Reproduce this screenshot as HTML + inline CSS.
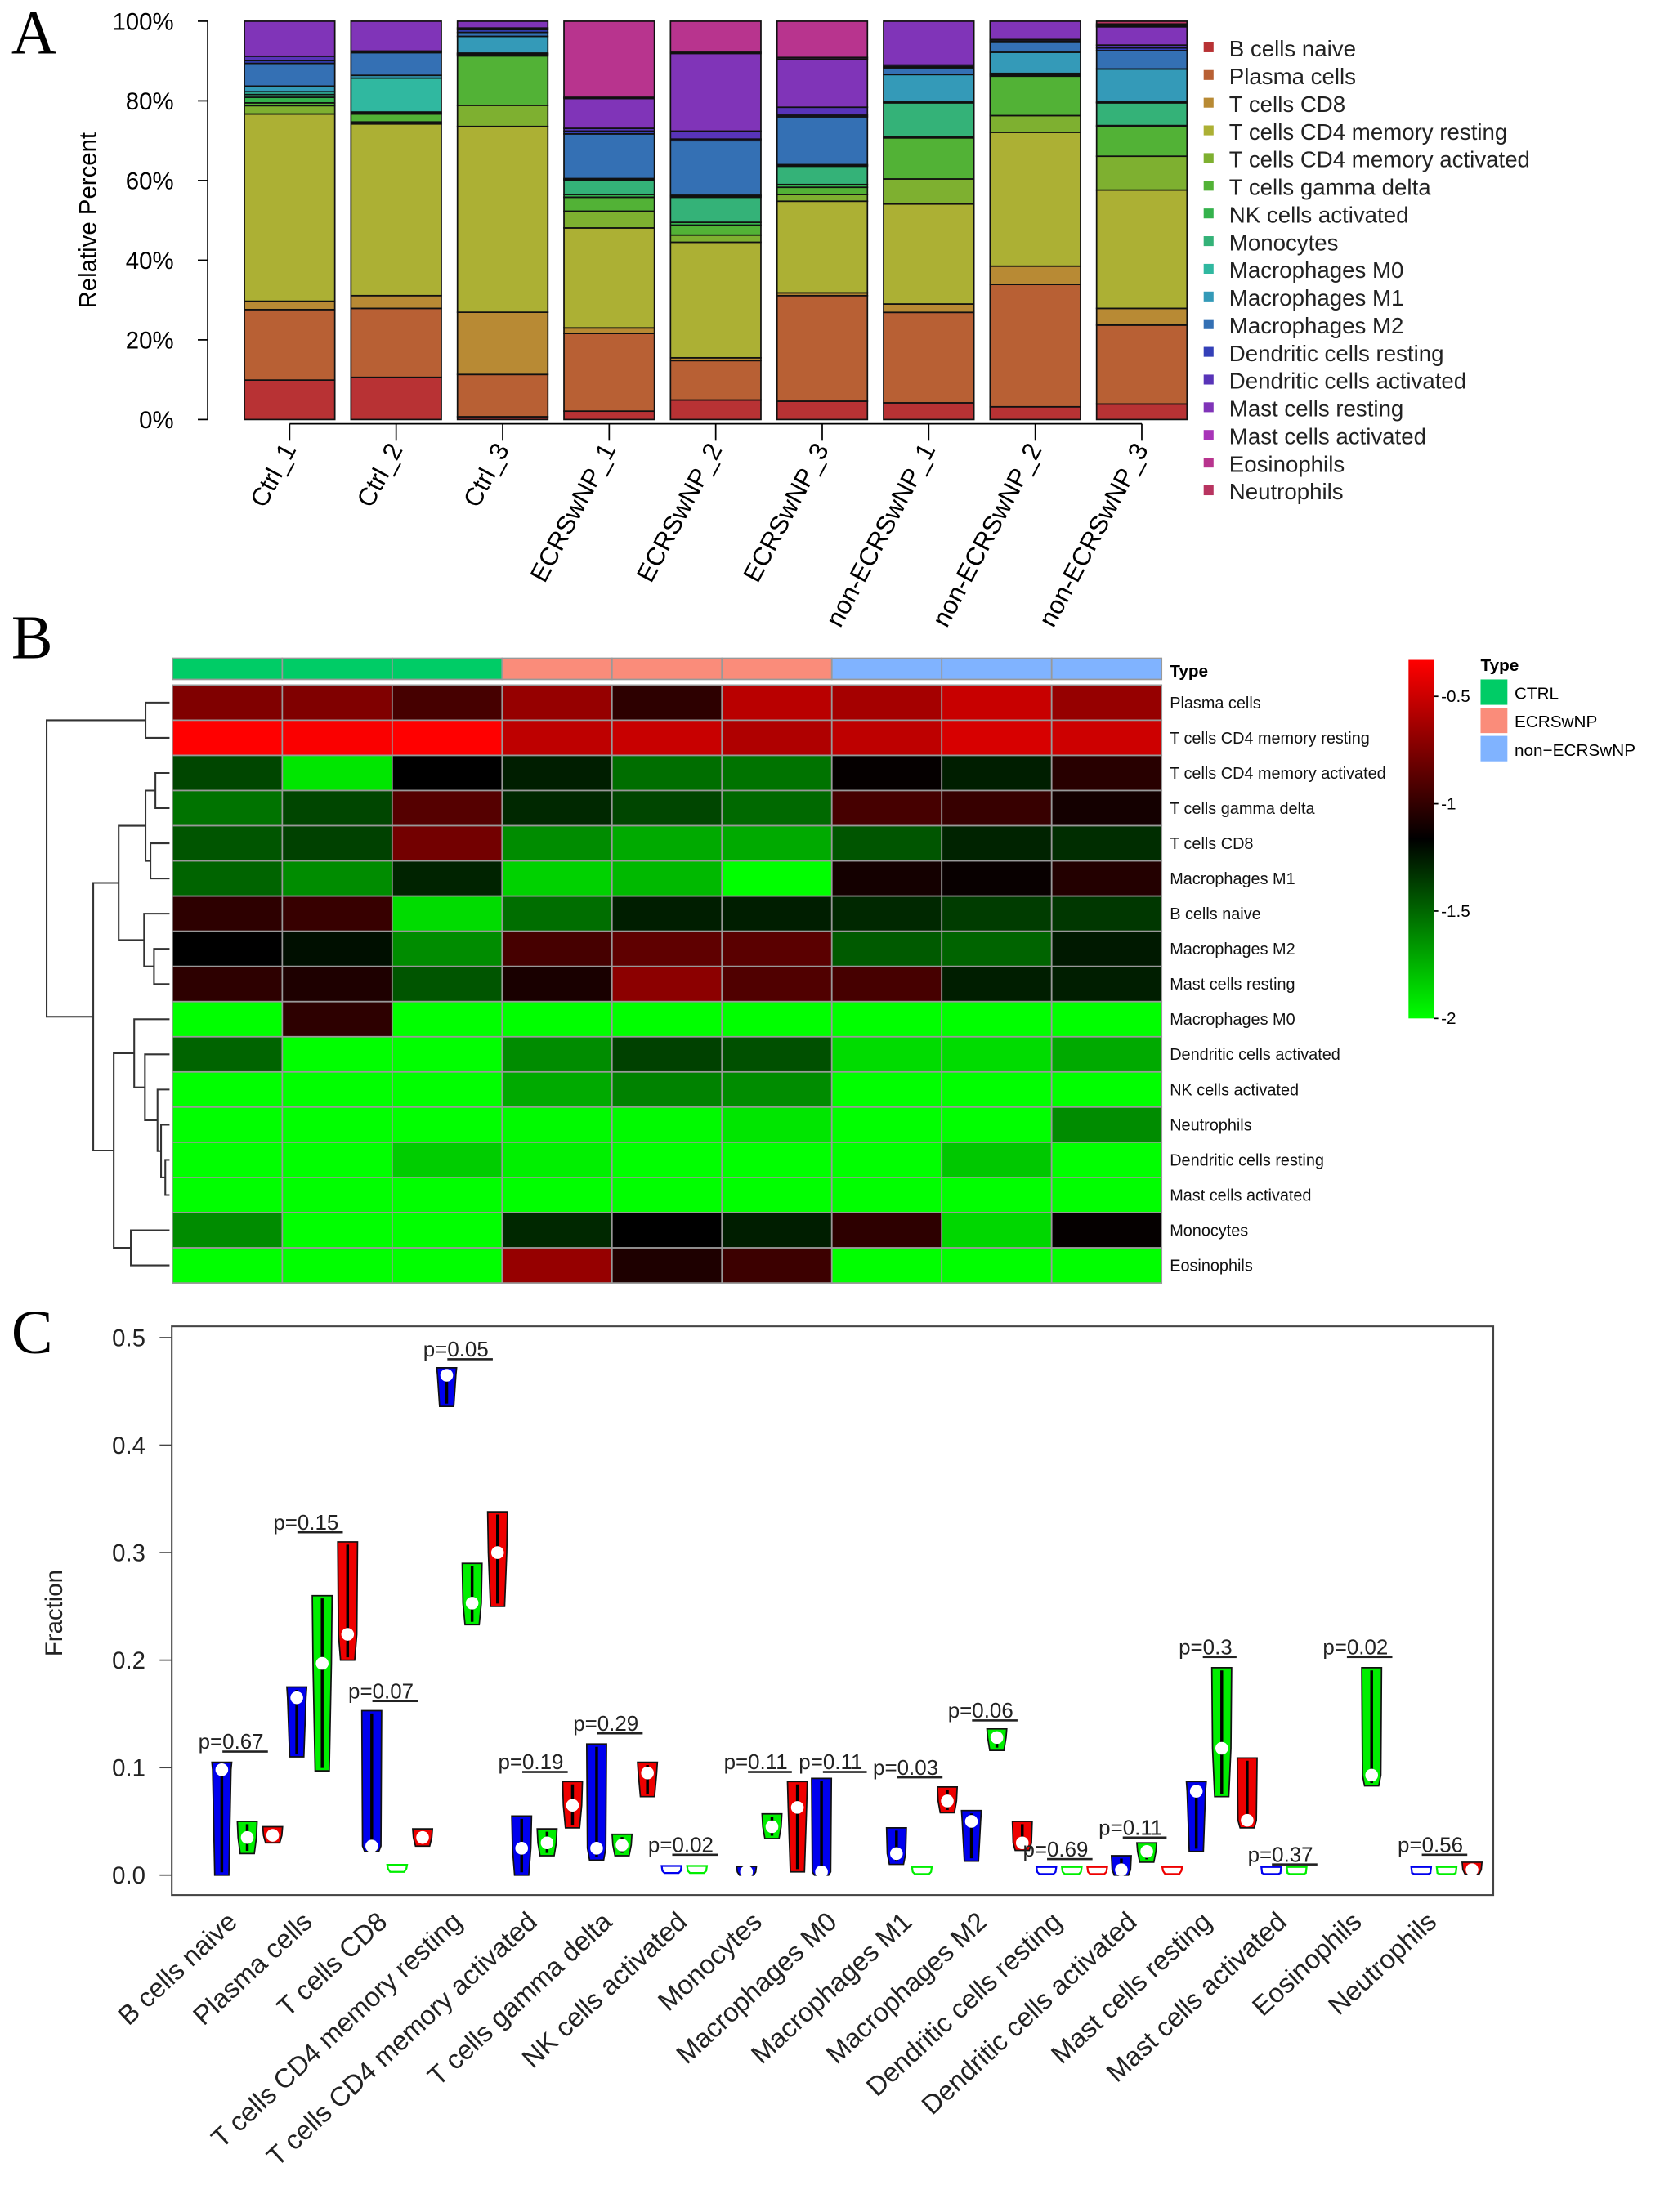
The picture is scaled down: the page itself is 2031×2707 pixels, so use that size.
<!DOCTYPE html>
<html><head><meta charset="utf-8">
<style>
html,body{margin:0;padding:0;background:#fff;}
svg{display:block;font-family:"Liberation Sans",sans-serif;}
</style></head>
<body>
<svg id="fig" width="2031" height="2707" viewBox="0 0 1175 1566" preserveAspectRatio="none" xmlns="http://www.w3.org/2000/svg">
<defs>
<linearGradient id="cbar" x1="0" y1="0" x2="0" y2="1">
<stop offset="0" stop-color="#ff0000"/><stop offset="0.5" stop-color="#000000"/><stop offset="1" stop-color="#00ff00"/>
</linearGradient>
</defs>
<text x="8" y="38" font-family="Liberation Serif,serif" font-size="44">A</text>
<text x="8" y="466" font-family="Liberation Serif,serif" font-size="44">B</text>
<text x="8" y="958" font-family="Liberation Serif,serif" font-size="44">C</text>
<g id="pa"></g>
<g id="pb"></g>
<g id="pc"></g>
</svg>
<script>
// ---------- shared data ----------
const cellTypes = ["B cells naive","Plasma cells","T cells CD8","T cells CD4 memory resting","T cells CD4 memory activated","T cells gamma delta","NK cells activated","Monocytes","Macrophages M0","Macrophages M1","Macrophages M2","Dendritic cells resting","Dendritic cells activated","Mast cells resting","Mast cells activated","Eosinophils","Neutrophils"];
const cellColors = ["#b83234","#b86034","#b88a34","#acb034","#7eb030","#52b236","#34b24c","#34b278","#30b8a0","#349ab8","#3470b4","#3440b8","#5834b8","#8034b8","#a834b8","#b8348e","#b83460"];
// Panel A
const samples = ["Ctrl_1","Ctrl_2","Ctrl_3","ECRSwNP_1","ECRSwNP_2","ECRSwNP_3","non-ECRSwNP_1","non-ECRSwNP_2","non-ECRSwNP_3"];
const fracCtrl1 = [9.9,17.7,2.1,47,2.1,0.7,1.4,0.7,0.7,1.4,5.7,0.7,1.1,8.8,0,0,0];
const fracCtrl2 = [10.6,17.3,3.2,43.1,0.5,2.0,0.2,0.3,8.5,0.7,5.7,0.2,0.2,7.5,0,0,0];
const fracCtrl3 = [0.7,10.6,15.6,46.6,5.3,12.4,0.3,0.2,0.2,4.2,1.0,0.7,0.4,1.7,0,0,0];
const fracE1 = [2.1,19.5,1.4,25.1,4.2,3.5,0.7,3.6,0.2,0.2,11.2,0.7,0.7,7.5,0.3,19.1,0];
const fracE2 = [4.9,9.9,0.7,29.0,1.8,2.5,0.7,6.3,0.3,0.2,13.7,0.4,2.0,19.5,0.3,7.8,0];
const fracE3 = [4.6,26.5,0.7,23.0,1.7,1.8,0.7,4.6,0.2,0.2,12.0,0.4,2.0,12.1,0.4,9.1,0];
const fracN1 = [4.2,22.7,2.1,25.1,6.3,10.3,0.3,8.5,0.2,6.9,1.7,0.3,0.4,11.0,0,0,0];
const fracN2 = [3.2,30.7,4.6,33.6,4.2,9.9,0.3,0.2,0.2,5.3,2.5,0.3,0.4,4.6,0,0,0];
const fracN3 = [3.9,19.8,4.2,29.7,8.5,7.4,0.3,5.7,0.2,8.3,4.6,0.7,0.7,4.6,0.3,0.4,0.7];
const yTicksA = [0,20,40,60,80,100];
// Panel B
const heatRows = ["Plasma cells","T cells CD4 memory resting","T cells CD4 memory activated","T cells gamma delta","T cells CD8","Macrophages M1","B cells naive","Macrophages M2","Mast cells resting","Macrophages M0","Dendritic cells activated","NK cells activated","Neutrophils","Dendritic cells resting","Mast cells activated","Monocytes","Eosinophils"];
const heatGroups = ["CTRL","CTRL","CTRL","ECRSwNP","ECRSwNP","ECRSwNP","non-ECRSwNP","non-ECRSwNP","non-ECRSwNP"];
const hPlasma = [-0.746,-0.746,-0.936,-0.674,-1.018,-0.560,-0.625,-0.511,-0.674];
const hCD4r = [-0.331,-0.347,-0.331,-0.544,-0.511,-0.593,-0.544,-0.462,-0.495];
const hCD4a = [-1.394,-1.917,-1.165,-1.263,-1.525,-1.541,-1.149,-1.263,-1.034];
const hTgd = [-1.541,-1.394,-0.887,-1.296,-1.394,-1.508,-0.936,-0.985,-1.100];
const hCD8 = [-1.443,-1.378,-0.789,-1.623,-1.721,-1.721,-1.443,-1.279,-1.312];
const hM1 = [-1.492,-1.623,-1.279,-1.852,-1.770,-2.0,-1.100,-1.139,-1.051];
const hBn = [-1.018,-0.985,-1.884,-1.525,-1.263,-1.263,-1.296,-1.361,-1.345];
const hM2 = [-1.165,-1.214,-1.623,-0.936,-0.854,-0.871,-1.459,-1.492,-1.247];
const hMastR = [-1.018,-1.067,-1.443,-1.083,-0.707,-0.903,-0.936,-1.263,-1.263];
const hM0 = [-2,-1.018,-2,-2,-2,-2,-2,-2,-2];
const hDCa = [-1.492,-2,-2,-1.623,-1.378,-1.426,-1.884,-1.884,-1.721];
const hNK = [-2,-2,-2,-1.721,-1.590,-1.623,-2,-2,-2];
const hNeut = [-2,-2,-2,-1.983,-1.983,-1.917,-2,-2,-1.623];
const hDCr = [-2,-2,-1.835,-1.950,-2,-2,-2,-1.819,-2];
const hMastA = [-2,-2,-2,-2,-2,-2,-2,-2,-2];
const hMono = [-1.623,-2,-2,-1.296,-1.165,-1.263,-1.018,-1.868,-1.149];
const hEos = [-2,-2,-2,-0.674,-1.067,-0.969,-2,-2,-2];
const cbarTicks = [-0.5,-1,-1.5,-2];
// Panel C
const blueMin = [0,0.11,0.022,0.436,0,0.014,0.002,0,0,0.01,0.013,0.001,0,0.022,0.001,null,0.001];
const blueMed = [0.098,0.165,0.027,0.465,0.025,0.025,0.004,0.003,0.003,0.02,0.05,0.003,0.005,0.078,0.002,null,0.002];
const blueMax = [0.105,0.175,0.153,0.472,0.055,0.122,0.007,0.008,0.09,0.044,0.06,0.006,0.018,0.087,0.004,null,0.004];
const greenMin = [0.02,0.097,0.003,0.233,0.018,0.018,0.002,0.034,null,0.001,0.116,0.001,0.012,0.073,0.001,0.083,0.001];
const greenMed = [0.035,0.197,0.006,0.253,0.03,0.028,0.004,0.045,null,0.003,0.128,0.003,0.022,0.118,0.002,0.093,0.002];
const greenMax = [0.05,0.26,0.01,0.29,0.043,0.038,0.007,0.057,null,0.007,0.136,0.006,0.03,0.193,0.004,0.193,0.004];
const redMin = [0.03,0.2,0.027,0.25,0.044,0.073,null,0.003,null,0.058,0.023,0.001,0.001,0.044,null,null,0.001];
const redMed = [0.037,0.224,0.035,0.3,0.065,0.095,null,0.063,null,0.069,0.03,0.003,0.004,0.051,null,null,0.005];
const redMax = [0.045,0.31,0.043,0.338,0.087,0.105,null,0.087,null,0.082,0.05,0.006,0.008,0.109,null,null,0.012];
const pValues = ["0.67","0.15","0.07","0.05","0.19","0.29","0.02","0.11","0.11","0.03","0.06","0.69","0.11","0.3","0.37","0.02","0.56"];
const pLabelV = [0.124,0.328,0.171,0.489,0.105,0.141,0.028,0.105,0.105,0.1,0.153,0.024,0.044,0.212,0.019,0.212,0.028];
const yTicksC = [0,0.1,0.2,0.3,0.4,0.5];

const NS="http://www.w3.org/2000/svg";
function mk(tag, attrs, parent){const e=document.createElementNS(NS,tag);for(const k in attrs)e.setAttribute(k,attrs[k]);parent.appendChild(e);return e;}

// ---------- Panel A ----------
(function(){
const g=document.getElementById('pa');
const fracs=[fracCtrl1,fracCtrl2,fracCtrl3,fracE1,fracE2,fracE3,fracN1,fracN2,fracN3];
const y0=297,y1=15;
const yA=v=>y0-(v/100)*(y0-y1);
const bx=i=>173+i*75.4, bw=64;
const ax=mk('line',{x1:147,y1:yA(0),x2:147,y2:yA(100),stroke:'#000','stroke-width':1},g);


yTicksA.forEach(t=>{
 const tk=mk('line',{x1:140,y1:yA(t),x2:147,y2:yA(t),stroke:'#000'},g);
 
 
 const tl=mk('text',{x:123,y:yA(t)+6,'text-anchor':'end','font-size':17},g);tl.textContent=t+'%';
 
 
});
const yt=mk('text',{x:0,y:0,transform:'translate(68,156) rotate(-90)','text-anchor':'middle','font-size':17},g);
yt.textContent='Relative Percent';


fracs.forEach((f,i)=>{
 const tot=f.reduce((a,b)=>a+b,0);let acc=0;
 f.forEach((v,k)=>{
  if(v<=0)return;
  const a=acc/tot*100, b=(acc+v)/tot*100; acc+=v;
  const r=mk('rect',{x:bx(i),y:yA(b),width:bw,height:yA(a)-yA(b),fill:cellColors[k],stroke:'#111','stroke-width':1},g);
  
  
 });
 const cx=bx(i)+bw/2;
 const tk=mk('line',{x1:cx,y1:300,x2:cx,y2:312,stroke:'#000'},g);
 
 
 const lb=mk('text',{x:0,y:0,transform:`translate(${cx+5},${318}) rotate(-62)`,'text-anchor':'end','font-size':18},g);
 lb.textContent=samples[i];
 
 
});
const xl=mk('line',{x1:bx(0)+bw/2,y1:300,x2:bx(8)+bw/2,y2:300,stroke:'#000'},g);


cellTypes.forEach((n,k)=>{
 const y=35+k*19.6;
 const s=mk('rect',{x:852,y:y-5,width:7,height:7,fill:cellColors[k]},g);
 
 
 const t=mk('text',{x:870,y:y+5,'font-size':16,fill:'#222'},g);t.textContent=n;
 
 
});
})();

// ---------- Panel B ----------
(function(){
const g=document.getElementById('pb');
const M=[hPlasma,hCD4r,hCD4a,hTgd,hCD8,hM1,hBn,hM2,hMastR,hM0,hDCa,hNK,hNeut,hDCr,hMastA,hMono,hEos];
const x0=122,cw=77.8,y0=485,rh=24.9;
const vmax=-0.33,vmin=-2,vmid=(vmax+vmin)/2;
function col(v){
 if(v>=vmid){const t=Math.min(1,(v-vmid)/(vmax-vmid));return `rgb(${Math.round(255*t)},0,0)`;}
 const t=Math.min(1,(vmid-v)/(vmid-vmin));return `rgb(0,${Math.round(255*t)},0)`;
}
const gc={"CTRL":"#00cc66","ECRSwNP":"#fa8c7a","non-ECRSwNP":"#80b3ff"};
heatGroups.forEach((gr,j)=>{
 const r=mk('rect',{x:x0+j*cw,y:466,width:cw,height:15,fill:gc[gr],stroke:'#999','stroke-width':1},g);
 
 
});
const tt=mk('text',{x:828,y:479,'font-size':12,'font-weight':'bold'},g);tt.textContent='Type';


M.forEach((row,i)=>{
 row.forEach((v,j)=>{
  const r=mk('rect',{x:x0+j*cw,y:y0+i*rh,width:cw,height:rh,fill:col(v),stroke:'#999','stroke-width':1},g);
  
  
 });
 const t=mk('text',{x:828,y:y0+i*rh+rh/2+4,'font-size':11.5,fill:'#111'},g);t.textContent=heatRows[i];
 
 
});
// dendrogram
const tree={h:33,c:[{h:103,c:[0,1]},{h:66,c:[
 {h:84,c:[{h:103,c:[{h:110,c:[2,3]},{h:106.5,c:[4,5]}]},{h:102,c:[6,{h:109,c:[7,8]}]}]},
 {h:80.5,c:[{h:95,c:[9,{h:102.6,c:[10,{h:111.5,c:[11,{h:114,c:[12,{h:117,c:[13,14]}]}]}]}]},{h:92.6,c:[15,16]}]}
]}]};
function draw(n){
 if(typeof n==='number')return{x:120,y:y0+(n+0.5)*rh};
 const a=draw(n.c[0]),b=draw(n.c[1]);
 const p=mk('path',{d:`M${a.x},${a.y}H${n.h}V${b.y}H${b.x}`,fill:'none',stroke:'#333','stroke-width':1.2},g);
 
 
 return{x:n.h,y:(a.y+b.y)/2};
}
draw(tree);
// colorbar
const cy=v=>493+(-0.5-v)*152;
const cb=mk('rect',{x:997,y:cy(vmax),width:18,height:cy(vmin)-cy(vmax),fill:'url(#cbar)'},g);


cbarTicks.forEach(t=>{
 const l=mk('line',{x1:1015,y1:cy(t),x2:1018,y2:cy(t),stroke:'#000'},g);
 
 
 const s=mk('text',{x:1020,y:cy(t)+4,'font-size':12},g);s.textContent=String(t);
 
 
});
const lt=mk('text',{x:1048,y:475,'font-size':12,'font-weight':'bold'},g);lt.textContent='Type';


["CTRL","ECRSwNP","non\u2212ECRSwNP"].forEach((n,k)=>{
 const key=["CTRL","ECRSwNP","non-ECRSwNP"][k];
 const r=mk('rect',{x:1048,y:481+k*20,width:19,height:18,fill:gc[key]},g);
 
 
 const t=mk('text',{x:1072,y:495+k*20,'font-size':12},g);t.textContent=n;
 
 
});
})();

// ---------- Panel C ----------
(function(){
const g=document.getElementById('pc');
const yC=v=>1327.5-v*761;
const gx=i=>157+i*53.06;
const box=mk('rect',{x:121.6,y:939,width:935.4,height:402.6,fill:'none',stroke:'#444','stroke-width':1.2},g);


yTicksC.forEach(t=>{
 const l=mk('line',{x1:113,y1:yC(t),x2:121.6,y2:yC(t),stroke:'#444'},g);
 
 
 const s=mk('text',{x:103,y:yC(t)+6,'text-anchor':'end','font-size':17,fill:'#222'},g);s.textContent=t.toFixed(1);
 
 
});
const yt=mk('text',{x:0,y:0,transform:'translate(44,1142) rotate(-90)','text-anchor':'middle','font-size':17,fill:'#222'},g);
yt.textContent='Fraction';


const series=[[blueMin,blueMed,blueMax,'#0000ee',0],[greenMin,greenMed,greenMax,'#00ee00',18],[redMin,redMed,redMax,'#ee0000',36]];
series.forEach(([mn,md,mx,c,off])=>{
 mn.forEach((lo,i)=>{
  if(lo===null)return;
  const cx=gx(i)+off;
  const yb=yC(lo),ym=yC(md[i]);let ytp=yC(mx[i]);
  const small=(yb-ytp)<6;
  if(small){ytp=yb-5;}
  const wt=7,wm=6.5,wb=5;
  const pts=[[cx-wt,ytp],[cx+wt,ytp],[cx+wm,ym],[cx+wb,yb],[cx-wb,yb],[cx-wm,ym]].map(p=>p.join(',')).join(' ');
  const v=mk('polygon',{points:pts,fill:small?'none':c,stroke:small?c:'#111','stroke-width':small?1.3:1},g);
  
  
  if(!small){
   const ln=mk('line',{x1:cx,y1:ytp+2,x2:cx,y2:yb-2,stroke:'#000','stroke-width':2},g);
   
   
   const d=mk('circle',{cx:cx,cy:ym,r:4.5,fill:'#fff'},g);
   
   
  }
 });
});
pValues.forEach((p,i)=>{
 const t=mk('text',{x:gx(i)+8,y:yC(pLabelV[i])+5,'text-anchor':'middle','font-size':15,fill:'#222'},g);
 
 
 const a=mk('tspan',{},t);a.textContent='p=';
 const b=mk('tspan',{'text-decoration':'underline'},t);b.textContent=p+'\u2009';
});
cellTypes.forEach((n,i)=>{
 const t=mk('text',{x:0,y:0,transform:`translate(${gx(i)+12},${1362}) rotate(-43)`,'text-anchor':'end','font-size':19,fill:'#222'},g);
 t.textContent=n;
 
 
});
})();
</script>
</body></html>
